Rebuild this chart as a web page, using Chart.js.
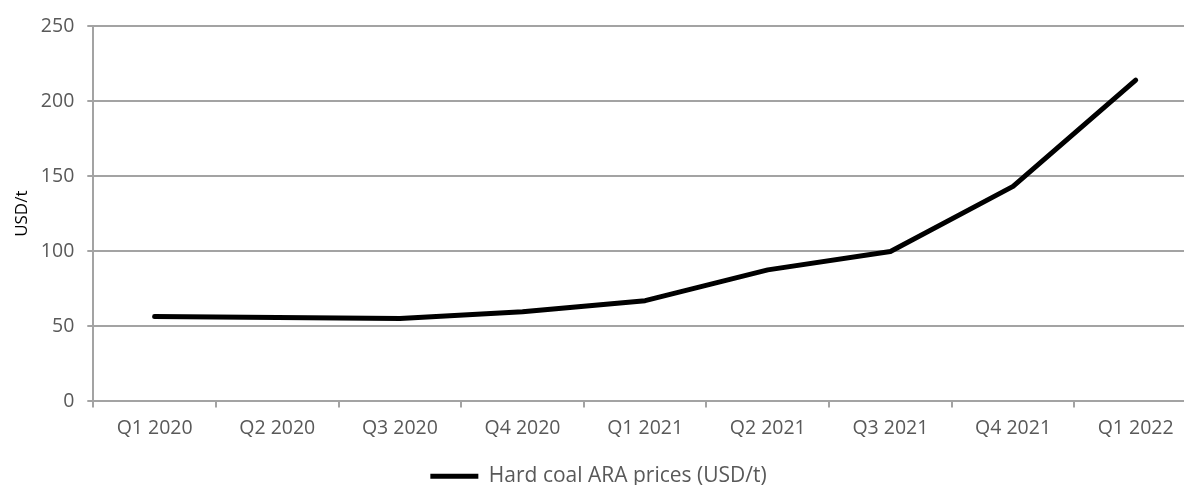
<!DOCTYPE html>
<html>
<head>
<meta charset="utf-8">
<title>Hard coal ARA prices</title>
<script src="https://cdn.jsdelivr.net/npm/chart.js@4/dist/chart.umd.min.js"></script>
<style>
  html, body { margin: 0; padding: 0; background: #fff; overflow: hidden; }
  .grafico { width: 1200px; height: 485px; }
</style>
</head>
<body>
<div class="grafico"><canvas id="chart-carvao"></canvas></div>
<script>
// valores
const trimestres = ["Q1 2020", "Q2 2020", "Q3 2020", "Q4 2020", "Q1 2021", "Q2 2021", "Q3 2021", "Q4 2021", "Q1 2022"];
const precos = [56.5, 55.9, 55.2, 59.7, 67.1, 87.6, 99.8, 143.2, 214];
const serieNome = "Hard coal ARA prices (USD/t)";
const eixoY = { titulo: "USD/t", min: 0, max: 250, passo: 50 };

const CORES = {
  linha: "#000000",
  grade: "#a3a3a3",
  texto: "#595959",
  titulo: "#000000",
};

Chart.defaults.font.family = '"Open Sans", "Noto Sans", sans-serif';
Chart.defaults.color = CORES.texto;

new Chart(document.getElementById("chart-carvao"), {
  type: "line",
  data: {
    labels: trimestres,
    datasets: [{
      label: serieNome,
      data: precos,
      borderColor: CORES.linha,
      backgroundColor: CORES.linha,
      borderWidth: 5,
      borderCapStyle: "round",
      borderJoinStyle: "round",
      pointRadius: 0,
      pointHoverRadius: 0,
      tension: 0,
      fill: false,
    }],
  },
  options: {
    responsive: true, maintainAspectRatio: false, animation: false,
    layout: { padding: { top: 26, left: 0, right: 3, bottom: -11.7 } },
    plugins: {
      tooltip: { enabled: false },
      legend: {
        position: "bottom",
        labels: {
          usePointStyle: true,
          pointStyle: "line",
          pointStyleWidth: 48,
          padding: 8,
          color: CORES.texto,
          font: { size: 21 },
        },
      },
    },
    scales: {
      x: {
        offset: true,
        afterFit: (s) => { s.height = 56.3; },
        grid: { offset: true, drawOnChartArea: false, color: CORES.grade, lineWidth: 2, tickLength: 6 },
        border: { color: CORES.grade, width: 2 },
        ticks: { padding: 9, color: CORES.texto, font: { size: 19.5 }, maxRotation: 0, autoSkip: false },
      },
      y: {
        min: eixoY.min, max: eixoY.max,
        afterFit: (s) => { s.width = 93.3; },
        grid: { color: CORES.grade, lineWidth: 2, tickLength: 6 },
        border: { color: CORES.grade, width: 2 },
        ticks: { stepSize: eixoY.passo, padding: 13, color: CORES.texto, font: { size: 19.5 } },
        title: {
          display: true, text: eixoY.titulo, color: CORES.titulo,
          font: { size: 17 }, padding: { top: 12, bottom: 0 },
        },
      },
    },
  },
});
</script>
</body>
</html>
